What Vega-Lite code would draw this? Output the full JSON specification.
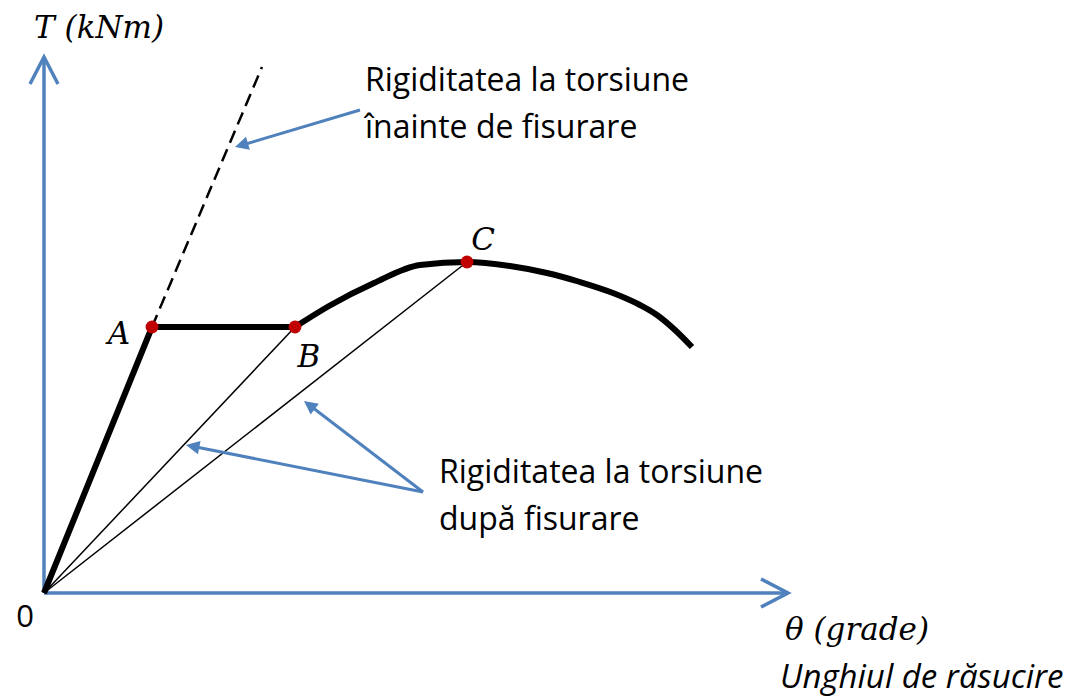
{
  "$schema": "https://vega.github.io/schema/vega-lite/v6.json",
  "width": 1072,
  "height": 697,
  "padding": 0,
  "autosize": {"type": "fit", "contains": "padding"},
  "background": "white",
  "config": {"view": {"stroke": null}},
  "datasets": {
    "axes": [
      {"id": "yaxis", "o": 0, "x": 0, "y": 0},
      {"id": "yaxis", "o": 1, "x": 0, "y": 535},
      {"id": "ychev", "o": 0, "x": -14, "y": 509},
      {"id": "ychev", "o": 1, "x": 0, "y": 536},
      {"id": "ychev", "o": 2, "x": 14, "y": 509},
      {"id": "xaxis", "o": 0, "x": 0, "y": 0},
      {"id": "xaxis", "o": 1, "x": 743, "y": 0},
      {"id": "xchev", "o": 0, "x": 717, "y": 14},
      {"id": "xchev", "o": 1, "x": 744, "y": 0},
      {"id": "xchev", "o": 2, "x": 717, "y": -14}
    ],
    "rays": [
      {"id": "OB", "o": 0, "x": 0, "y": 0},
      {"id": "OB", "o": 1, "x": 251, "y": 266},
      {"id": "OC", "o": 0, "x": 0, "y": 0},
      {"id": "OC", "o": 1, "x": 423, "y": 331}
    ],
    "dashed": [
      {"o": 0, "x": 108, "y": 266},
      {"o": 1, "x": 218, "y": 526}
    ],
    "arrows": [
      {"id": "a1", "o": 0, "x": 316, "y": 483},
      {"id": "a1", "o": 1, "x": 195, "y": 447},
      {"id": "a2", "o": 0, "x": 379, "y": 101},
      {"id": "a2", "o": 1, "x": 147, "y": 147},
      {"id": "a3", "o": 0, "x": 379, "y": 101},
      {"id": "a3", "o": 1, "x": 264, "y": 189}
    ],
    "heads": [
      {"id": "a1", "x": 191, "y": 446},
      {"id": "a2", "x": 142, "y": 148},
      {"id": "a3", "x": 260, "y": 192}
    ],
    "curve1": [
      {"o": 0, "x": 0, "y": 0},
      {"o": 1, "x": 108, "y": 266},
      {"o": 2, "x": 251, "y": 266}
    ],
    "curve2": [
      {"o": 0, "x": 251, "y": 266},
      {"o": 1, "x": 285, "y": 287},
      {"o": 2, "x": 330, "y": 310},
      {"o": 3, "x": 376, "y": 328},
      {"o": 4, "x": 423, "y": 331},
      {"o": 5, "x": 466, "y": 327},
      {"o": 6, "x": 503, "y": 320},
      {"o": 7, "x": 536, "y": 311},
      {"o": 8, "x": 569, "y": 300},
      {"o": 9, "x": 596, "y": 288},
      {"o": 10, "x": 613, "y": 278},
      {"o": 11, "x": 631, "y": 263},
      {"o": 12, "x": 648, "y": 246}
    ],
    "pts": [
      {"name": "A", "x": 108, "y": 266},
      {"name": "B", "x": 251, "y": 266},
      {"name": "C", "x": 423, "y": 331}
    ],
    "sans": [
      {"label": "Rigiditatea la torsiune", "x": 321, "y": 502},
      {"label": "înainte de fisurare", "x": 321, "y": 455},
      {"label": "Rigiditatea la torsiune", "x": 395, "y": 110},
      {"label": "după fisurare", "x": 395, "y": 63}
    ],
    "zero": [
      {"label": "0", "x": -19, "y": -34}
    ],
    "sansItalic": [
      {"label": "Unghiul de răsucire", "x": 736, "y": -95}
    ],
    "serifItalicLeft": [
      {"label": "T (kNm)", "x": -10, "y": 555},
      {"label": "θ (grade)", "x": 741, "y": -47}
    ],
    "letters": [
      {"label": "A", "x": 75, "y": 249},
      {"label": "B", "x": 265, "y": 226},
      {"label": "C", "x": 439, "y": 343}
    ]
  },
  "encoding": {
    "x": {"field": "x", "type": "quantitative", "scale": {"domain": [-44, 1028], "nice": false, "zero": false}, "axis": null},
    "y": {"field": "y", "type": "quantitative", "scale": {"domain": [-104, 593], "nice": false, "zero": false}, "axis": null}
  },
  "layer": [
    {
      "data": {"name": "axes"},
      "mark": {"type": "line", "stroke": "#4F81BD", "strokeWidth": 3.5, "strokeJoin": "miter", "strokeCap": "butt"},
      "encoding": {"detail": {"field": "id"}, "order": {"field": "o"}}
    },
    {
      "data": {"name": "rays"},
      "mark": {"type": "line", "stroke": "black", "strokeWidth": 1.5},
      "encoding": {"detail": {"field": "id"}, "order": {"field": "o"}}
    },
    {
      "data": {"name": "dashed"},
      "mark": {"type": "line", "stroke": "black", "strokeWidth": 2.5, "strokeDash": [13, 7]},
      "encoding": {"order": {"field": "o"}}
    },
    {
      "data": {"name": "arrows"},
      "mark": {"type": "line", "stroke": "#4F81BD", "strokeWidth": 3},
      "encoding": {"detail": {"field": "id"}, "order": {"field": "o"}}
    },
    {
      "data": {"name": "heads"},
      "transform": [{"filter": "datum.id == 'a1'"}],
      "mark": {"type": "point", "shape": "M0,0 L-0.5,1 L0.5,1 Z", "size": 729, "filled": true, "fill": "#4F81BD", "opacity": 1, "strokeWidth": 0, "angle": 253.5}
    },
    {
      "data": {"name": "heads"},
      "transform": [{"filter": "datum.id == 'a2'"}],
      "mark": {"type": "point", "shape": "M0,0 L-0.5,1 L0.5,1 Z", "size": 729, "filled": true, "fill": "#4F81BD", "opacity": 1, "strokeWidth": 0, "angle": 281.2}
    },
    {
      "data": {"name": "heads"},
      "transform": [{"filter": "datum.id == 'a3'"}],
      "mark": {"type": "point", "shape": "M0,0 L-0.5,1 L0.5,1 Z", "size": 729, "filled": true, "fill": "#4F81BD", "opacity": 1, "strokeWidth": 0, "angle": 307.4}
    },
    {
      "data": {"name": "curve1"},
      "mark": {"type": "line", "stroke": "black", "strokeWidth": 6, "strokeJoin": "round"},
      "encoding": {"order": {"field": "o"}}
    },
    {
      "data": {"name": "curve2"},
      "mark": {"type": "line", "stroke": "black", "strokeWidth": 6, "interpolate": "monotone", "strokeCap": "butt"},
      "encoding": {"order": {"field": "o"}}
    },
    {
      "data": {"name": "pts"},
      "mark": {"type": "circle", "size": 165, "color": "#C00000", "opacity": 1}
    },
    {
      "data": {"name": "sans"},
      "mark": {"type": "text", "font": "Open Sans", "fontSize": 32, "align": "left", "baseline": "alphabetic", "color": "black"},
      "encoding": {"text": {"field": "label"}}
    },
    {
      "data": {"name": "zero"},
      "mark": {"type": "text", "font": "Open Sans", "fontSize": 31, "align": "center", "baseline": "alphabetic", "color": "black"},
      "encoding": {"text": {"field": "label"}}
    },
    {
      "data": {"name": "sansItalic"},
      "mark": {"type": "text", "font": "Open Sans", "fontStyle": "italic", "fontSize": 33, "align": "left", "baseline": "alphabetic", "color": "black"},
      "encoding": {"text": {"field": "label"}}
    },
    {
      "data": {"name": "serifItalicLeft"},
      "mark": {"type": "text", "font": "DejaVu Serif", "fontStyle": "italic", "fontSize": 31, "align": "left", "baseline": "alphabetic", "color": "black"},
      "encoding": {"text": {"field": "label"}}
    },
    {
      "data": {"name": "letters"},
      "mark": {"type": "text", "font": "DejaVu Serif", "fontStyle": "italic", "fontSize": 31, "align": "center", "baseline": "alphabetic", "color": "black"},
      "encoding": {"text": {"field": "label"}}
    }
  ]
}
